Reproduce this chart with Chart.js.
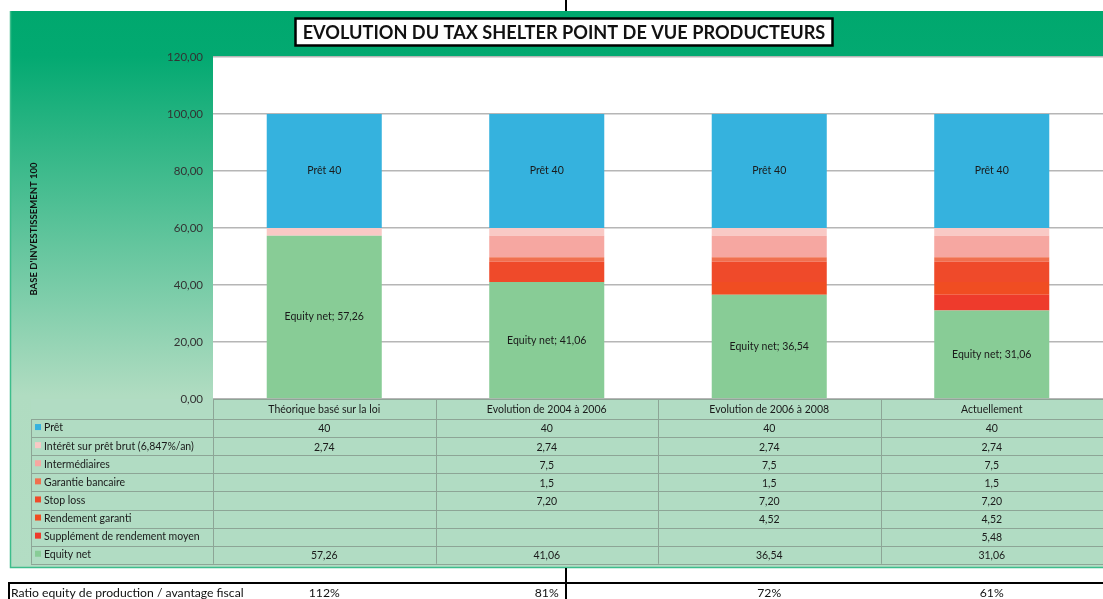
<!DOCTYPE html>
<html><head><meta charset="utf-8">
<script src="https://cdn.jsdelivr.net/npm/chart.js@4"></script>
<style>html,body{margin:0;padding:0;background:#fff;overflow:hidden}
canvas{display:block}</style></head><body>
<canvas id="c" width="1103" height="599"></canvas>
<script>
// ---------- DATA ----------
const categories = ["Théorique basé sur la loi", "Evolution de 2004 à 2006", "Evolution de 2006 à 2008", "Actuellement"];
const seriesNames = ["Prêt", "Intérêt sur prêt brut (6,847%/an)", "Intermédiaires", "Garantie bancaire", "Stop loss", "Rendement garanti", "Supplément de rendement moyen", "Equity net"];
const pret           = [40, 40, 40, 40];
const interet        = [2.74, 2.74, 2.74, 2.74];
const intermediaires = [null, 7.5, 7.5, 7.5];
const garantie       = [null, 1.5, 1.5, 1.5];
const stopLoss       = [null, 7.2, 7.2, 7.2];
const rendement      = [null, null, 4.52, 4.52];
const supplement     = [null, null, null, 5.48];
const equity         = [57.26, 41.06, 36.54, 31.06];
const tableDecimals  = [0, 2, 1, 1, 2, 2, 2, 2];
const yTicks         = [0, 20, 40, 60, 80, 100, 120];
const title          = "EVOLUTION DU TAX SHELTER POINT DE VUE PRODUCTEURS";
const yTitle         = "BASE D'INVESTISSEMENT 100";
const ratioLabel     = "Ratio equity de production / avantage fiscal";
const ratios         = ["112%", "81%", "72%", "61%"];

// ---------- STYLE ----------
const FONT = "Lato, 'Open Sans', sans-serif";
const colors = ["#35b2de", "#f9c9c5", "#f6a7a1", "#f0704f", "#ef4a2a", "#f04d22", "#ee3b2c", "#88cc96"];
const seriesData = [pret, interet, intermediaires, garantie, stopLoss, rendement, supplement, equity];
const fmt = (v, d) => v == null ? "" : v.toFixed(d).replace('.', ',');

// stack order bottom -> top: Equity net first, Prêt last
const order = [7, 6, 5, 4, 3, 2, 1, 0];
const datasets = order.map(i => ({
  label: seriesNames[i],
  data: seriesData[i],
  backgroundColor: colors[i],
  borderWidth: 0,
  categoryPercentage: 1.0,
  barPercentage: 0.517,
  seriesIndex: i
}));

const bgPlugin = {
  id: 'bg',
  beforeDraw(chart) {
    const ctx = chart.ctx, ca = chart.chartArea;
    ctx.save();
    ctx.fillStyle = '#ffffff';
    ctx.fillRect(0, 0, chart.width, chart.height);
    const g = ctx.createLinearGradient(0, 11, 0, 568);
    g.addColorStop(0, '#00a86e');
    g.addColorStop(0.08, '#03a971');
    g.addColorStop(0.69, '#b0dcc1');
    g.addColorStop(1, '#b3ddc4');
    ctx.fillStyle = g;
    ctx.fillRect(10, 11, chart.width - 10, 557);
    ctx.strokeStyle = '#3dbd8b';
    ctx.lineWidth = 1.5;
    ctx.beginPath();
    ctx.moveTo(10.5, 11); ctx.lineTo(10.5, 567.5); ctx.lineTo(chart.width, 567.5);
    ctx.stroke();
    ctx.fillStyle = '#b1dcc3';
    ctx.fillRect(31, ca.bottom, chart.width - 31, 165);
    ctx.fillStyle = '#ffffff';
    ctx.fillRect(ca.left, ca.top, ca.right - ca.left, ca.bottom - ca.top);
    ctx.restore();
  }
};

const overlayPlugin = {
  id: 'overlay',
  afterDatasetsDraw(chart) {
    const ctx = chart.ctx;
    ctx.save();
    ctx.font = "10.5px " + FONT;
    ctx.fillStyle = '#1a1a1a';
    ctx.textAlign = 'center';
    ctx.textBaseline = 'middle';
    chart.data.datasets.forEach((ds, di) => {
      const si = ds.seriesIndex;
      if (si !== 0 && si !== 7) return;
      const meta = chart.getDatasetMeta(di);
      meta.data.forEach((el, i) => {
        const v = ds.data[i];
        if (v == null) return;
        const cy = (el.y + el.base) / 2;
        const txt = si === 0 ? seriesNames[si] + " " + fmt(v, 0) : seriesNames[si] + "; " + fmt(v, 2);
        ctx.fillText(txt, el.x, cy);
      });
    });
    ctx.restore();
  },
  afterDraw(chart) {
    const ctx = chart.ctx, ca = chart.chartArea, xs = chart.scales.x;
    const W = chart.width;
    const colW = (ca.right - ca.left) / categories.length;
    ctx.save();

    // ---- data table ----
    const top = ca.bottom, headH = 20, rowH = 18.1;
    const legL = 31, legR = ca.left;
    const nRows = seriesNames.length;
    const bottom = top + headH + rowH * nRows;
    ctx.strokeStyle = '#8da596';
    ctx.lineWidth = 1;
    ctx.beginPath();
    ctx.moveTo(legR, top + 0.5); ctx.lineTo(W, top + 0.5);
    for (let r = 0; r <= nRows; r++) {
      const y = Math.round(top + headH + r * rowH) + 0.5;
      ctx.moveTo(legL, y); ctx.lineTo(W, y);
    }
    ctx.moveTo(legL + 0.5, top + headH); ctx.lineTo(legL + 0.5, bottom);
    for (let c = 0; c <= categories.length; c++) {
      const x = Math.round(ca.left + c * colW) + 0.5;
      ctx.moveTo(x, top); ctx.lineTo(x, bottom);
    }
    ctx.stroke();

    ctx.font = "10.5px " + FONT;
    ctx.fillStyle = '#1a1a1a';
    ctx.textBaseline = 'middle';
    ctx.textAlign = 'center';
    categories.forEach((c, i) => {
      ctx.fillText(c, xs.getPixelForValue(i), top + headH / 2 + 1);
    });
    seriesNames.forEach((n, r) => {
      const cy = top + headH + r * rowH + rowH / 2;
      ctx.fillStyle = colors[r];
      ctx.fillRect(35, cy - 4, 6, 6);
      ctx.fillStyle = '#1a1a1a';
      ctx.textAlign = 'left';
      ctx.fillText(n, 44, cy);
      ctx.textAlign = 'center';
      seriesData[r].forEach((v, i) => {
        if (v == null) return;
        ctx.fillText(fmt(v, tableDecimals[r]), xs.getPixelForValue(i), cy + 1);
      });
    });

    // ---- title box ----
    ctx.font = "bold 20px " + FONT;
    let tw = ctx.measureText(title).width;
    const fs = 20 * 523 / tw;
    ctx.font = "bold " + fs.toFixed(2) + "px " + FONT;
    ctx.fillStyle = '#ffffff';
    ctx.fillRect(295, 18, 538, 28);
    ctx.strokeStyle = '#000';
    ctx.lineWidth = 2.5;
    ctx.strokeRect(295.5, 18.5, 537, 27);
    ctx.fillStyle = '#111';
    ctx.textAlign = 'center';
    ctx.textBaseline = 'middle';
    ctx.fillText(title, 564, 33);

    // ---- y axis title ----
    ctx.save();
    ctx.translate(34, 229);
    ctx.rotate(-Math.PI / 2);
    ctx.font = "bold 9.5px " + FONT;
    ctx.fillStyle = '#111';
    ctx.fillText(yTitle, 0, 0);
    ctx.restore();

    // ---- ratio row ----
    ctx.strokeStyle = '#000';
    ctx.lineWidth = 2;
    ctx.beginPath();
    ctx.moveTo(8, 583); ctx.lineTo(W, 583);
    ctx.moveTo(9, 583); ctx.lineTo(9, 599);
    ctx.stroke();
    ctx.font = "12.2px " + FONT;
    ctx.fillStyle = '#111';
    ctx.textAlign = 'left';
    ctx.textBaseline = 'alphabetic';
    ctx.fillText(ratioLabel, 11, 597);
    ctx.textAlign = 'center';
    ratios.forEach((r, i) => ctx.fillText(r, xs.getPixelForValue(i), 597));

    // page split line
    ctx.lineWidth = 2;
    ctx.beginPath();
    ctx.moveTo(566, 0); ctx.lineTo(566, 11);
    ctx.moveTo(566, 568); ctx.lineTo(566, 599);
    ctx.stroke();
    ctx.restore();
  }
};

new Chart(document.getElementById('c'), {
  type: 'bar',
  data: { labels: categories, datasets },
  options: {
    responsive: false,
    animation: false,
    devicePixelRatio: 1,
    layout: { padding: { left: 10, top: 57, right: 0, bottom: 200 } },
    plugins: { legend: { display: false }, tooltip: { enabled: false }, title: { display: false } },
    scales: {
      x: { stacked: true, display: false },
      y: {
        stacked: true, min: 0, max: 120,
        afterBuildTicks(scale) { scale.ticks = yTicks.map(v => ({ value: v })); },
        afterFit(scale) { scale.width = 203; },
        border: { display: false },
        grid: { color: '#b6b6b6', lineWidth: 1.5, drawTicks: false },
        ticks: {
          padding: 10,
          color: '#333',
          font: { family: FONT, size: 11.5 },
          callback: v => fmt(v, 2)
        }
      }
    }
  },
  plugins: [bgPlugin, overlayPlugin]
});
</script>
</body></html>
